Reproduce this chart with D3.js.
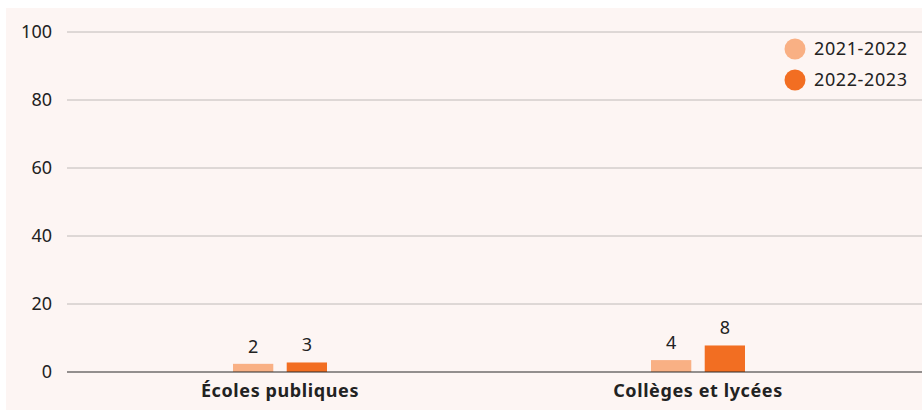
<!DOCTYPE html>
<meta charset="utf-8">
<script src="https://cdn.jsdelivr.net/npm/d3@7"></script>
<style>
  body { margin: 0; background: #fff; }
  text { font-family: "Noto Sans", sans-serif; fill: #222; }
  .grid line { stroke: #bfbab8; stroke-width: 1px; }
</style>
<body>
<script>

  var categories = ["Écoles publiques", "Collèges et lycées"];
  var series = ["2021-2022", "2022-2023"];
  var values2021 = [2.4, 3.5];
  var values2022 = [2.8, 7.8];
  var labels2021 = ["2", "4"];
  var labels2022 = ["3", "8"];
  var yTicks = [0, 20, 40, 60, 80, 100];
  var colors = ["#f9b084", "#f26e22"];

  var width = 922,
      height = 410;
  var margin = {top: 32, right: 15, bottom: 38, left: 71};

  var svg = d3.select("body").append("svg")
      .attr("width", width)
      .attr("height", height);

  // pink panel
  svg.append("rect")
      .attr("x", 6).attr("y", 8)
      .attr("width", width - 6).attr("height", height - 8)
      .attr("fill", "#fdf5f3");

  var y = d3.scaleLinear()
      .domain([0, 100])
      .range([height - margin.bottom, margin.top]);

  var x = d3.scaleBand()
      .domain(categories)
      .range([margin.left, width - margin.right]);

  var xs = d3.scaleBand()
      .domain(series)
      .range([x.bandwidth() / 2 - 47, x.bandwidth() / 2 + 47])
      .paddingInner(0.25);

  // gridlines
  svg.append("g")
      .attr("class", "grid")
      .selectAll("line")
      .data(yTicks.filter(function(d) { return d > 0; }))
      .enter().append("line")
      .attr("x1", 67)
      .attr("x2", width)
      .attr("y1", function(d) { return y(d); })
      .attr("y2", function(d) { return y(d); });

  // y tick labels
  svg.append("g")
      .selectAll("text")
      .data(yTicks)
      .enter().append("text")
      .attr("x", 52)
      .attr("y", function(d) { return y(d); })
      .attr("dy", "0.36em")
      .attr("text-anchor", "end")
      .style("font-size", "18px")
      .text(function(d) { return d; });

  var rows = categories.map(function(c, i) {
    return [
      {cat: c, key: series[0], value: values2021[i], label: labels2021[i], color: colors[0]},
      {cat: c, key: series[1], value: values2022[i], label: labels2022[i], color: colors[1]}
    ];
  });

  var group = svg.selectAll(".group")
      .data(rows)
      .enter().append("g")
      .attr("class", "group")
      .attr("transform", function(d, i) { return "translate(" + x(categories[i]) + ",0)"; });

  group.selectAll("rect")
      .data(function(d) { return d; })
      .enter().append("rect")
      .attr("x", function(d) { return xs(d.key); })
      .attr("width", xs.bandwidth())
      .attr("y", function(d) { return y(d.value); })
      .attr("height", function(d) { return y(0) - y(d.value); })
      .attr("fill", function(d) { return d.color; });

  group.selectAll(".val")
      .data(function(d) { return d; })
      .enter().append("text")
      .attr("class", "val")
      .attr("x", function(d) { return xs(d.key) + xs.bandwidth() / 2; })
      .attr("y", function(d) { return y(d.value) - 11; })
      .attr("text-anchor", "middle")
      .style("font-size", "18px")
      .text(function(d) { return d.label; });

  // baseline
  svg.append("line")
      .attr("x1", 67).attr("x2", width)
      .attr("y1", y(0)).attr("y2", y(0))
      .attr("stroke", "#2a2a2a")
      .attr("stroke-width", 1.2);

  // category labels
  svg.append("g")
      .selectAll("text")
      .data(categories)
      .enter().append("text")
      .attr("x", function(d) { return x(d) + x.bandwidth() / 2; })
      .attr("y", 397)
      .attr("text-anchor", "middle")
      .style("font-size", "18px")
      .style("font-weight", 700)
      .style("letter-spacing", "0.6px")
      .text(function(d) { return d; });

  // legend
  var legend = svg.append("g")
      .selectAll("g")
      .data(series)
      .enter().append("g")
      .attr("transform", function(d, i) { return "translate(795," + (49 + i * 31) + ")"; });

  legend.append("circle")
      .attr("r", 10.5)
      .attr("fill", function(d, i) { return colors[i]; });

  legend.append("text")
      .attr("x", 19)
      .attr("dy", "0.36em")
      .style("font-size", "18px")
      .style("letter-spacing", "0.6px")
      .text(function(d) { return d; });

</script>
</body>
